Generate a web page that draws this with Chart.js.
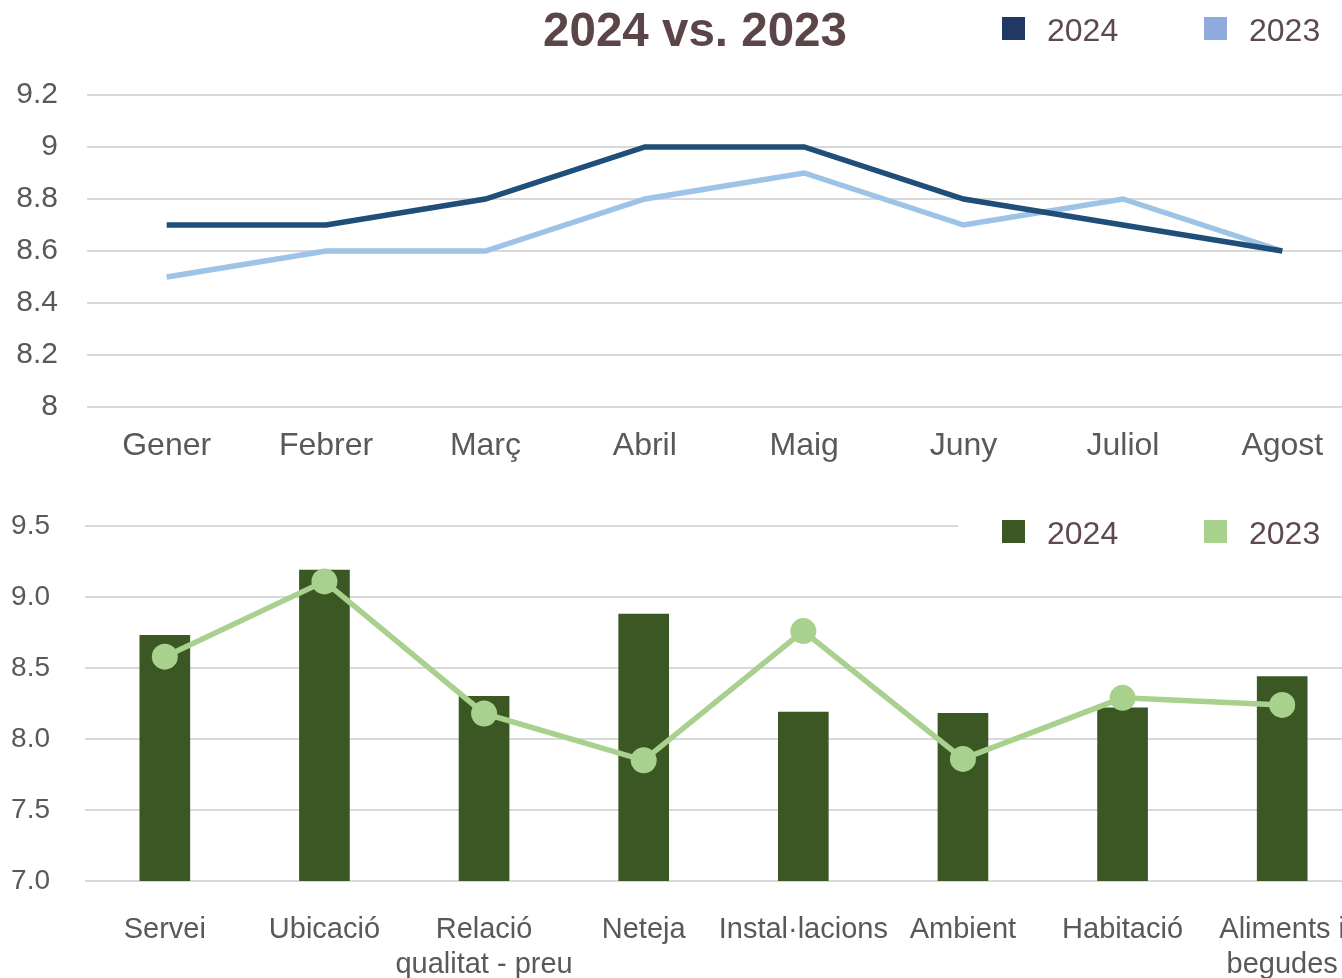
<!DOCTYPE html>
<html>
<head>
<meta charset="utf-8">
<script src="https://cdn.jsdelivr.net/npm/chart.js@4/dist/chart.umd.min.js"></script>
<style>
  html, body { margin: 0; padding: 0; background: #fff; overflow: hidden; width: 1342px; height: 978px; }
  canvas { position: absolute; left: 0; }
  #top { top: 0; }
  #bottom { top: 490px; }
</style>
</head>
<body>
<canvas id="top" width="1362" height="490"></canvas>
<canvas id="bottom" width="1362" height="488"></canvas>
<script>
// === Dades ===
const months = ['Gener', 'Febrer', 'Març', 'Abril', 'Maig', 'Juny', 'Juliol', 'Agost'];
const months2024 = [8.7, 8.7, 8.8, 9.0, 9.0, 8.8, 8.7, 8.6];
const months2023 = [8.5, 8.6, 8.6, 8.8, 8.9, 8.7, 8.8, 8.6];

const aspects = ['Servei', 'Ubicació', ['Relació', 'qualitat - preu'], 'Neteja',
  'Instal·lacions', 'Ambient', 'Habitació', ['Aliments i', 'begudes']];
const aspects2024 = [8.73, 9.19, 8.30, 8.88, 8.19, 8.18, 8.22, 8.44];
const aspects2023 = [8.58, 9.11, 8.18, 7.85, 8.76, 7.86, 8.29, 8.24];

const FONT = '"Liberation Sans", Arial, sans-serif';
const tickColor = '#595959';
const legendColor = '#5E4A4E';
const gridColor = '#D9D9D9';

// llegenda dibuixada a mà (a dalt a la dreta)
function legendPlugin(items, y, cover) {
  return {
    id: 'customLegend',
    afterDraw(chart) {
      const ctx = chart.ctx;
      ctx.save();
      if (cover) {
        ctx.fillStyle = '#fff';
        ctx.fillRect(958, y - 22, chart.width - 958, 44);
      }
      ctx.font = '32px ' + FONT;
      ctx.textBaseline = 'middle';
      ctx.textAlign = 'left';
      items.forEach(it => {
        ctx.fillStyle = it.color;
        ctx.fillRect(it.x, y - 11, 23, 23);
        ctx.fillStyle = legendColor;
        ctx.fillText(it.label, it.x + 45, y + 4);
      });
      ctx.restore();
    }
  };
}

const titlePlugin = {
  id: 'title24',
  afterDraw(chart) {
    const ctx = chart.ctx;
    ctx.save();
    ctx.font = 'bold 47.5px ' + FONT;
    ctx.fillStyle = '#5B4548';
    ctx.textAlign = 'center';
    ctx.textBaseline = 'middle';
    ctx.fillText('2024 vs. 2023', 695, 33);
    ctx.restore();
  }
};

// els eixos no han d'afegir marge extra a l'àrea del gràfic
const fixX = h => a => { a.height = h; a.paddingLeft = 0; a.paddingRight = 0; };
const fixY = w => a => { a.width = w; a.paddingTop = 0; a.paddingBottom = 0; };

// === Gràfic superior: línies per mesos ===
new Chart(document.getElementById('top'), {
  type: 'line',
  data: {
    labels: months,
    datasets: [
      { label: '2024', data: months2024, borderColor: '#1F4E79', borderWidth: 5.5, pointRadius: 0, tension: 0 },
      { label: '2023', data: months2023, borderColor: '#9DC3E6', borderWidth: 5.5, pointRadius: 0, tension: 0 }
    ]
  },
  options: {
    responsive: false,
    animation: false,
    layout: { autoPadding: false, padding: { top: 95, left: 0, right: 0, bottom: 0 } },
    plugins: { legend: { display: false }, tooltip: { enabled: false } },
    scales: {
      x: {
        offset: true,
        grid: { display: false, drawTicks: false },
        border: { display: false },
        ticks: { color: tickColor, font: { family: FONT, size: 32 }, padding: 20, maxRotation: 0 },
        afterFit: fixX(83)
      },
      y: {
        min: 8, max: 9.2,
        ticks: { stepSize: 0.2, color: tickColor, font: { family: FONT, size: 30 }, padding: 29,
          callback: v => String(+v.toFixed(1)) },
        grid: { color: gridColor, lineWidth: 2, drawTicks: false },
        border: { display: false },
        afterFit: fixY(87)
      }
    }
  },
  plugins: [titlePlugin, legendPlugin([
    { label: '2024', color: '#1F3864', x: 1002 },
    { label: '2023', color: '#8FAADC', x: 1204 }
  ], 28, false)]
});

// === Gràfic inferior: barres 2024 + línia 2023 ===
new Chart(document.getElementById('bottom'), {
  data: {
    labels: aspects,
    datasets: [
      { type: 'line', label: '2023', data: aspects2023, borderColor: '#A9D18E', backgroundColor: '#A9D18E',
        borderWidth: 5.5, pointRadius: 13, pointBorderWidth: 0, pointHoverRadius: 13, order: 0, clip: false },
      { type: 'bar', label: '2024', data: aspects2024, backgroundColor: '#3A5724', barThickness: 50, order: 1 }
    ]
  },
  options: {
    responsive: false,
    animation: false,
    layout: { autoPadding: false, padding: { top: 36, left: 0, right: 0, bottom: 0 } },
    plugins: { legend: { display: false }, tooltip: { enabled: false } },
    scales: {
      x: {
        offset: true,
        grid: { display: false, drawTicks: false },
        border: { display: false },
        ticks: { color: tickColor, font: { family: FONT, size: 29, lineHeight: 1.2 }, padding: 32, maxRotation: 0, autoSkip: false },
        afterFit: fixX(97)
      },
      y: {
        min: 7, max: 9.5,
        ticks: { stepSize: 0.5, color: tickColor, font: { family: FONT, size: 28 }, padding: 35,
          callback: v => v.toFixed(1) },
        grid: { color: gridColor, lineWidth: 2, drawTicks: false },
        border: { display: false },
        afterFit: fixY(85)
      }
    }
  },
  plugins: [legendPlugin([
    { label: '2024', color: '#3A5724', x: 1002 },
    { label: '2023', color: '#A9D18E', x: 1204 }
  ], 41, true)]
});
</script>
</body>
</html>
